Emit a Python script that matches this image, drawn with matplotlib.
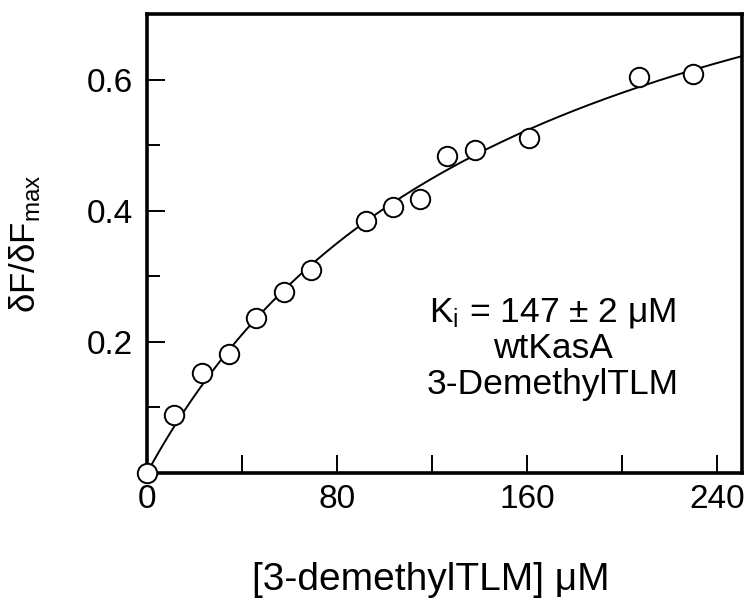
import numpy as np
import matplotlib
matplotlib.use("Agg")
import matplotlib.pyplot as plt
from matplotlib.ticker import FixedLocator, NullFormatter

plt.rcParams["font.family"] = ["Liberation Sans", "DejaVu Sans"]
plt.rcParams["mathtext.fontset"] = "custom"
plt.rcParams["mathtext.rm"] = "Liberation Sans"
plt.rcParams["mathtext.it"] = "Liberation Sans:italic"

# titration data
conc = [0, 11.5, 23, 34.5, 46, 57.5, 69, 92, 103.5, 115, 126.5, 138, 161, 207, 230]
dF = [0.0, 0.088, 0.152, 0.181, 0.236, 0.276, 0.309, 0.384, 0.406, 0.418,
      0.484, 0.493, 0.511, 0.604, 0.608]
x_ticks = [0, 80, 160, 240]
x_minor = [40, 120, 200]
y_ticks = [0.2, 0.4, 0.6]
y_minor = [0.1, 0.3, 0.5]
annot = ["K$_\\mathrm{i}$ = 147 \u00b1 2 \u03bcM", "wtKasA", "3-DemethylTLM"]

x = np.array(conc)
y = np.array(dF)

# hyperbolic fit: y = B*x/(K+x), grid over K, linear in B
best = None
for K in np.linspace(50, 400, 3501):
    h = x / (K + x)
    B = (h @ y) / (h @ h)
    r = np.sum((y - B * h) ** 2)
    if best is None or r < best[0]:
        best = (r, K, B)
_, Kfit, Bfit = best
xf = np.linspace(0, 250, 400)
yf = Bfit * xf / (Kfit + xf)

fig = plt.figure(figsize=(7.56, 5.99), dpi=100)
ax = fig.add_axes([0.1944, 0.2104, 0.7871, 0.7662])

ax.plot(xf, yf, color="black", lw=1.4, zorder=2)
ax.plot(x, y, "o", ms=14, mfc="white", mec="black", mew=1.4,
        clip_on=False, zorder=5)

ax.set_xlim(0, 250.5)
ax.set_ylim(0, 0.7)

ax.xaxis.set_major_locator(FixedLocator(x_ticks))
ax.xaxis.set_minor_locator(FixedLocator(x_minor))
ax.yaxis.set_major_locator(FixedLocator(y_ticks))
ax.yaxis.set_minor_locator(FixedLocator(y_minor))
ax.xaxis.set_minor_formatter(NullFormatter())
ax.set_xticklabels([str(t) for t in x_ticks])
ax.set_yticklabels([f"{t:.1f}" for t in y_ticks])

ax.tick_params(axis="both", which="both", direction="in", width=1.4,
               labelsize=24, top=False, right=False)
ax.tick_params(axis="x", which="both", length=13, pad=8)
ax.tick_params(axis="y", which="major", length=13, pad=10)
ax.tick_params(axis="y", which="minor", length=9)

for s in ax.spines.values():
    s.set_linewidth(2.6)

ax.set_xlabel("[3-demethylTLM] \u03bcM", fontsize=28)
ax.xaxis.set_label_coords(0.477, -0.195)
ax.set_ylabel("\u03b4F/\u03b4F$_\\mathrm{max}$", fontsize=25)
ax.yaxis.set_label_coords(-0.175, 0.5)

ax.text(0.682, 0.272, "\n".join(annot), transform=ax.transAxes,
        ha="center", va="center", fontsize=25.5, linespacing=1.1)

fig.savefig("out.png", dpi=100)
